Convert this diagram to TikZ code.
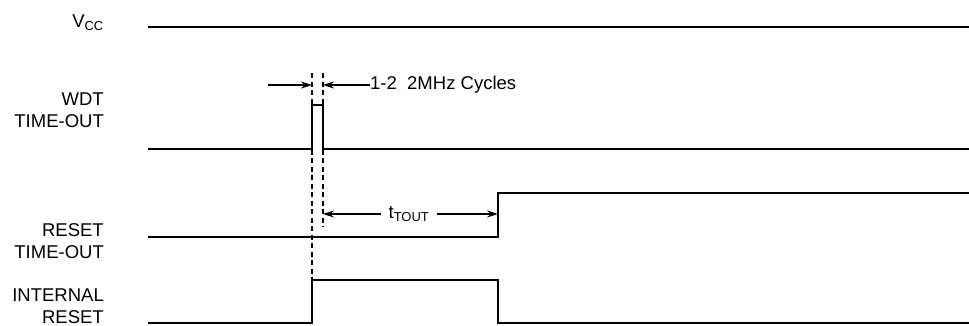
\documentclass[tikz,border=0pt]{standalone}
\usepackage{fontspec}
\setmainfont{Liberation Sans}
\usetikzlibrary{arrows.meta,positioning}
\begin{document}
\begin{tikzpicture}[x=1pt,y=-1pt]

      \tikzset{sig/.style={line width=1.4pt, line join=miter},
               guide/.style={line width=1.1pt, dash pattern=on 5pt off 3.5pt},
               dim/.style={line width=1.2pt, -{Stealth[length=11pt,width=7pt]}},
               lbl/.style={font=\fontsize{18.5}{21.5}\selectfont, align=right, inner sep=0pt}}
      \useasboundingbox (0,0) rectangle (969,325);
%% Signal names
      	\node[lbl, anchor=base east] (vcc) at (104,27) {V\textsubscript{CC}};
      	\node[lbl, anchor=east] (wdt) at (104,110) {WDT\\TIME-OUT};
      	\node[lbl, anchor=east] (rto) at (104,241) {RESET\\TIME-OUT};
      	\node[lbl, anchor=east] (irst) at (104,306) {INTERNAL\\RESET};
%% Edge points
      	\coordinate (a1) at (312,73);
      	\coordinate (a2) at (323,73);
      	\coordinate (b1) at (312,280);
      	\coordinate (b2) at (323,227);
      	\coordinate (t3) at (498,214);
%Guides
		\draw[guide] (a1) -- (b1);
		\draw[guide] (a2) -- (b2);
%Waveforms
		\draw[sig] (148,27) -- (969,27);
		\draw[sig] (148,149) -- (312,149) -- (312,105) -- (323,105) -- (323,149) -- (969,149);
		\draw[sig] (148,237) -- (498,237) -- (498,193) -- (969,193);
		\draw[sig] (148,323) -- (312,323) -- (312,280) -- (498,280) -- (498,323) -- (969,323);
%Widths
		\node[lbl, anchor=west] (cyc) at (370,85) {1-2\ \ 2MHz Cycles};
		\draw[dim] (268,85) -- (a1 |- cyc.west);
		\draw[dim] (cyc.west) -- (a2 |- cyc.west);
		\node[lbl] (tout) at (409,214) {t\textsubscript{TOUT}};
		\draw[dim] ([xshift=-7pt]tout.west) -- (a2 |- t3);
		\draw[dim] ([xshift=7pt]tout.east) -- (t3);

	\end{tikzpicture}
\end{document}
